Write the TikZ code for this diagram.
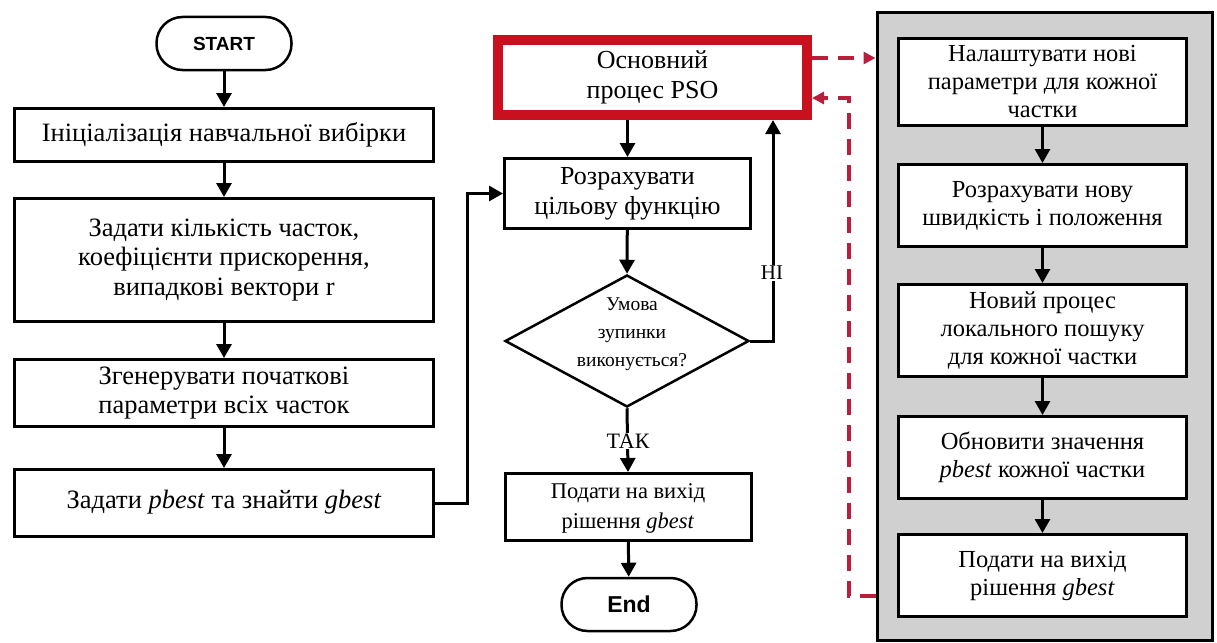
\documentclass[tikz,border=0pt]{standalone}
\usepackage{fontspec}
\setmainfont{Liberation Serif}
\newfontfamily\lsans{Liberation Sans}
\usetikzlibrary{arrows.meta,shapes.geometric}
\definecolor{psored}{RGB}{200,16,30}
\definecolor{dashred}{RGB}{185,30,60}
\definecolor{panelgray}{RGB}{208,208,208}
\begin{document}
\begin{tikzpicture}[x=1pt,y=-1pt,
  boxstyle/.style={draw,line width=3pt,fill=white,align=center,inner sep=0pt},
  lbox/.style={boxstyle,minimum width=419pt,font=\fontsize{26.5}{29.5}\selectfont},
  mbox/.style={boxstyle,minimum width=246pt,font=\fontsize{26}{30}\selectfont},
  rbox/.style={boxstyle,minimum width=288pt,font=\fontsize{24.5}{28}\selectfont},
  term/.style={draw,line width=2.5pt,rounded corners=26pt,minimum width=135pt,minimum height=53pt,inner sep=0pt,font=\lsans\bfseries},
  arr/.style={-{Triangle[length=14pt,width=15pt]},line width=3pt},
  rdash/.style={draw=dashred,line width=3.5pt,dash pattern=on 16pt off 10pt},
  rarr/.style={-{Triangle[length=12pt,width=12pt]},dashred}
]
\useasboundingbox (0,0) rectangle (1217,642);

% left column
\node[term,font=\lsans\bfseries\fontsize{19}{22}\selectfont] (start) at (224,43.5) {START};
\node[lbox,minimum height=53pt] (b1) at (224,135) {Ініціалізація навчальної вибірки};
\node[lbox,minimum height=123pt] (b2) at (224,260) {Задати кількість часток,\\коефіцієнти прискорення,\\випадкові вектори r};
\node[lbox,minimum height=67pt] (b3) at (224,393) {Згенерувати початкові\\параметри всіх часток};
\node[lbox,minimum height=67pt] (b4) at (224,503) {\raisebox{8pt}{Задати \textit{pbest} та знайти \textit{gbest}}};

\draw[arr] (start) -- (b1);
\draw[arr] (b1) -- (b2);
\draw[arr] (b2) -- (b3);
\draw[arr] (b3) -- (b4);

% middle column
\node[boxstyle,draw=psored,line width=10pt,minimum width=309pt,minimum height=75pt,font=\fontsize{26}{30}\selectfont] (pso) at (652.5,77.5) {Основний\\процес PSO};
\node[mbox,minimum height=70pt] (calc) at (627.5,193.5) {Розрахувати\\цільову функцію};
\node[diamond,draw,line width=2.5pt,minimum width=244pt,minimum height=132pt,inner sep=0pt] (dec) at (627,341) {};
\node[align=center,font=\fontsize{19.5}{28}\selectfont] (dectext) at (632,334) {Умова\\зупинки\\виконується?};
\node[mbox,minimum height=67pt,font=\fontsize{22.5}{30}\selectfont] (out) at (628,507) {\raisebox{-4pt}{\begin{tabular}{@{}c@{}}Подати на вихід\\рішення \textit{gbest}\end{tabular}}};
\node[term,font=\lsans\bfseries\fontsize{23}{26}\selectfont] (end) at (629,604.5) {End};

\coordinate (j1) at (467,503);
\draw[arr] (b4.east) -- (j1) |- (calc.west);
\draw[arr] (pso.south -| calc) -- (calc.north);
\draw[arr] (calc) -- (dec.north);
\coordinate (j2) at (773,341);
\draw[arr] (dec.east) -- (j2) -- (j2 |- pso.south);
\node[fill=white,inner sep=1pt,font=\fontsize{21}{24}\selectfont] (no) at (772,273) {НІ};
\draw[arr] (dec.south) -- (out.north);
\node[fill=white,inner sep=1pt,font=\fontsize{22}{24}\selectfont] (yes) at (628,441) {ТАК};
\draw[arr] (out) -- (end);

% right panel
\node[draw,line width=3pt,fill=panelgray,minimum width=335pt,minimum height=627pt,inner sep=0pt] (panel) at (1044.5,326.5) {};
\node[rbox,minimum height=87pt] (ra) at (1042.5,82) {Налаштувати нові\\параметри для кожної\\частки};
\node[rbox,minimum height=82pt] (rb) at (1042.5,205.5) {Розрахувати нову\\швидкість і положення};
\node[rbox,minimum height=92pt] (rc) at (1042.5,330.5) {Новий процес\\локального пошуку\\для кожної частки};
\node[rbox,minimum height=82pt] (rd) at (1042.5,457.5) {Обновити значення\\\textit{pbest} кожної частки};
\node[rbox,minimum height=82pt] (re) at (1042.5,575.5) {Подати на вихід\\рішення \textit{gbest}};
\draw[arr] (ra) -- (rb);
\draw[arr] (rb) -- (rc);
\draw[arr] (rc) -- (rd);
\draw[arr] (rd) -- (re);

% red dashed links
\draw[rdash,rarr] ([yshift=19.5pt]pso.east) coordinate (p1) -- (p1 -| panel.west);
\coordinate (q) at (849,596);
\draw[rdash,rarr] (panel.west |- q) -- (q) |- ([yshift=-20.5pt]pso.east);
\end{tikzpicture}
\end{document}
